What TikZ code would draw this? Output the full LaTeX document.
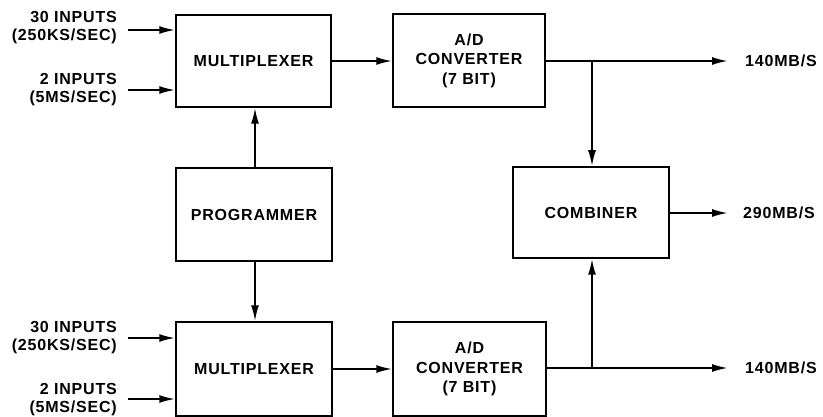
\documentclass[tikz,border=0pt]{standalone}
\usepackage{fontspec}
\setmainfont{Liberation Sans}[LetterSpace=5]
\usetikzlibrary{arrows.meta}
\begin{document}
\begin{tikzpicture}[x=1pt,y=-1pt,
  box/.style={draw,line width=1.5pt,inner sep=0pt,font=\fontsize{16}{19.5}\selectfont\bfseries,align=center},
  lbl/.style={inner sep=0pt,font=\fontsize{16}{18}\selectfont\bfseries},
  arr/.style={line width=2pt,-{Latex[length=16pt,width=8pt]}},
  ln/.style={line width=2pt}]
\useasboundingbox (0,0) rectangle (823,417);
% boxes
\node[box,minimum width=155pt,minimum height=92pt] (mux1) at (253.5,61) {MULTIPLEXER};
\node[box,minimum width=152pt,minimum height=93pt] (adc1) at (469,60.5) {A/D\\CONVERTER\\(7 BIT)};
\node[box,minimum width=156pt,minimum height=93pt] (prog) at (254,214.5) {PROGRAMMER};
\node[box,minimum width=156pt,minimum height=91pt] (comb) at (591,212.5) {COMBINER};
\node[box,minimum width=156pt,minimum height=94pt] (mux2) at (254,369) {MULTIPLEXER};
\node[box,minimum width=153pt,minimum height=94pt] (adc2) at (469.5,369) {A/D\\CONVERTER\\(7 BIT)};
% input labels
\node[lbl,anchor=east,align=right] (l1) at (117,28) {30 INPUTS\\(250KS/SEC)};
\node[lbl,anchor=east,align=right] (l2) at (117,90) {2 INPUTS\\(5MS/SEC)};
\node[lbl,anchor=east,align=right] (l3) at (117,338) {30 INPUTS\\(250KS/SEC)};
\node[lbl,anchor=east,align=right] (l4) at (117,400) {2 INPUTS\\(5MS/SEC)};
% output labels
\node[lbl,anchor=west] (o1) at (745,61) {140MB/S};
\node[lbl,anchor=west] (o2) at (743,213) {290MB/S};
\node[lbl,anchor=west] (o3) at (745,368) {140MB/S};
% input coordinates
\coordinate (i1) at (128,30);
\coordinate (i2) at (128,90);
\coordinate (i3) at (128,338);
\coordinate (i4) at (128,399);
\draw[arr] (i1) -- (mux1.west |- i1);
\draw[arr] (i2) -- (mux1.west |- i2);
\draw[arr] (i3) -- (mux2.west |- i3);
\draw[arr] (i4) -- (mux2.west |- i4);
% mux to adc
\draw[arr] (mux1.east) -- (adc1.west |- mux1.east);
\draw[arr] (mux2.east) -- (adc2.west |- mux2.east);
% programmer
\draw[arr] (prog.north -| 255,0) -- (mux1.south -| 255,0);
\draw[arr] (prog.south -| 255,0) -- (mux2.north -| 255,0);
% outputs
\coordinate (e1) at (728,61);
\coordinate (e2) at (728,213);
\coordinate (e3) at (728,368);
\coordinate (b1) at (592,61);
\coordinate (b3) at (592,368);
\draw[arr] (adc1.east |- e1) -- (e1);
\draw[arr] (adc2.east |- e3) -- (e3);
\draw[arr] (comb.east |- e2) -- (e2);
\draw[arr] (b1) -- (comb.north -| b1);
\draw[arr] (b3) -- (comb.south -| b3);
\end{tikzpicture}
\end{document}
